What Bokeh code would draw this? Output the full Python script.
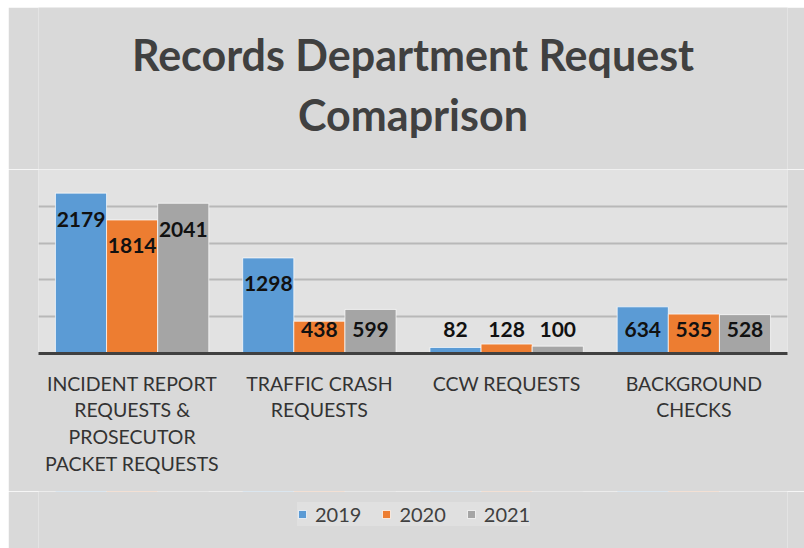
from bokeh.plotting import figure
from bokeh.models import (FactorRange, Range1d, Legend, LegendItem,
                          ColumnDataSource, FixedTicker, Spacer)
from bokeh.layouts import column, row
from bokeh.transform import dodge
from bokeh.core.properties import value
from bokeh.embed import file_html
from bokeh.resources import INLINE

# ---- data ----
categories = [
    "INCIDENT REPORT\nREQUESTS &\nPROSECUTOR\nPACKET REQUESTS",
    "TRAFFIC CRASH\nREQUESTS",
    "CCW REQUESTS",
    "BACKGROUND\nCHECKS",
]
years = ["2019", "2020", "2021"]
v2019 = [2179, 1298, 82, 634]
v2020 = [1814, 438, 128, 535]
v2021 = [2041, 599, 100, 528]
title_lines = ["Records Department Request", "Comaprison"]
y_ticks = [0, 500, 1000, 1500, 2000, 2500]
y_max = 2500

colors = ["#5B9BD5", "#ED7D31", "#A5A5A5"]
FONT = "Lato"
BG = "#d9d9d9"

W = 796
H_TITLE, H_MAIN, H_LEG = 162, 322, 57
MB_L, MB_R, MB_B = 30, 17, 138
frame_h = H_MAIN - MB_B
ppu = frame_h / y_max  # pixels per data unit


def px(p):
    return p / ppu


series = [v2019, v2020, v2021]
data = {"cat": categories}
for yr, vals in zip(years, series):
    data["v" + yr] = vals
    data["t" + yr] = [str(v) for v in vals]
    data["ly" + yr] = [max(v - px(26), px(24)) for v in vals]
source = ColumnDataSource(data)


def strip(height, x_range, y_range, **kw):
    f = figure(width=W, height=height, x_range=x_range, y_range=y_range,
               output_backend="svg", toolbar_location=None, title_location=None,
               min_border_left=MB_L, min_border_right=MB_R, **kw)
    f.outline_line_color = None
    f.border_fill_color = BG
    f.background_fill_color = BG
    return f


# ---- title strip ----
pt = strip(H_TITLE, Range1d(0, 1), Range1d(0, H_TITLE), min_border_top=0, min_border_bottom=0)
pt.axis.visible = False
pt.grid.visible = False
pt.text(x=[0.5, 0.5], y=[115, 55], text=title_lines, text_align="center",
        text_baseline="alphabetic", text_font=value(FONT), text_font_style="bold",
        text_font_size="43px", text_color="#404040")

# ---- main chart ----
p = strip(H_MAIN, FactorRange(*categories, range_padding=0), Range1d(0, y_max),
          min_border_top=0, min_border_bottom=MB_B)
p.background_fill_color = "#e2e2e2"

bw = 0.273
for i, (yr, col) in enumerate(zip(years, colors)):
    off = (i - 1) * bw
    p.vbar(x=dodge("cat", off, range=p.x_range), top="v" + yr, width=bw,
           source=source, fill_color=col, line_color="white", line_alpha=0.7,
           line_width=1)
    p.text(x=dodge("cat", off, range=p.x_range), y="ly" + yr, text="t" + yr,
           source=source, text_align="center", text_baseline="middle",
           text_font=value(FONT), text_font_style="bold", text_font_size="21px",
           text_color="#111111")

p.yaxis.visible = False
p.xgrid.visible = False
p.ygrid.ticker = FixedTicker(ticks=y_ticks)
p.ygrid.grid_line_color = "#b8b8b8"
p.ygrid.grid_line_width = 2

xa = p.xaxis[0]
xa.axis_line_color = "#404040"
xa.axis_line_width = 3
xa.major_tick_line_color = None
xa.minor_tick_line_color = None
xa.major_label_text_font = FONT
xa.major_label_text_font_size = "19.5px"
xa.major_label_text_color = "#333333"
xa.major_label_text_line_height = 1.17
xa.major_label_standoff = 12

# ---- legend strip (its bars lie outside the visible y window) ----
pl = strip(H_LEG, FactorRange(*categories, range_padding=0), Range1d(-2, -1),
           min_border_top=0, min_border_bottom=0)
pl.axis.visible = False
pl.grid.visible = False
leg_renderers = []
for i, (yr, col) in enumerate(zip(years, colors)):
    leg_renderers.append(pl.vbar(x=dodge("cat", (i - 1) * bw, range=pl.x_range),
                                 top="v" + yr, width=bw, source=source, fill_color=col,
                                 line_color="white", line_alpha=0.7))
legend = Legend(items=[LegendItem(label=yr, renderers=[r]) for yr, r in zip(years, leg_renderers)],
                orientation="horizontal", location=(259, 22),
                glyph_width=10, glyph_height=10, label_standoff=8, spacing=20,
                padding=9, margin=0, label_text_font=FONT, label_text_font_size="20px",
                label_text_color="#404040", background_fill_color="#e0e0e0",
                background_fill_alpha=1, border_line_color=None)
pl.add_layout(legend, "center")

layout = column(Spacer(width=804, height=7),
                row(Spacer(width=8, height=H_TITLE + H_MAIN + H_LEG), column(pt, p, pl)))
open("out.html", "w").write(file_html(layout, INLINE))
